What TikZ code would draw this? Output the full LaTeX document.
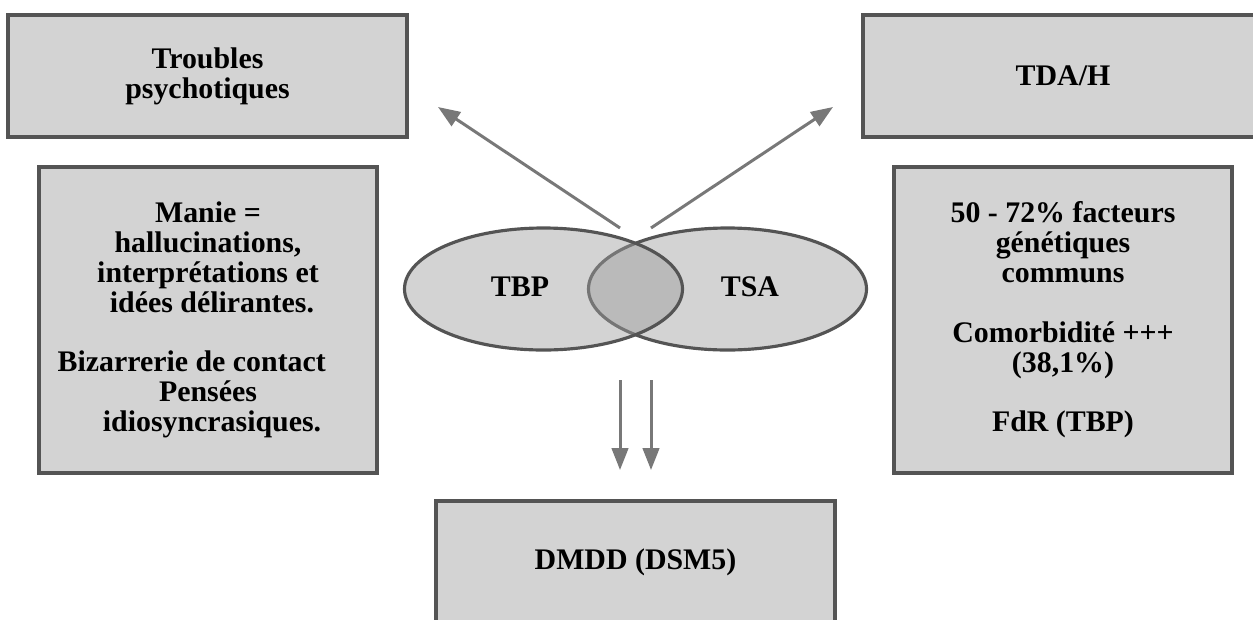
\documentclass[tikz,border=0pt]{standalone}
\usepackage{fontspec}
\setmainfont{Liberation Serif}
\usetikzlibrary{arrows.meta,shapes.geometric}
\definecolor{boxfill}{gray}{0.827}
\definecolor{boxline}{gray}{0.33}
\definecolor{arrowgray}{gray}{0.47}
\definecolor{setfill}{gray}{0.62}

\begin{document}
\begin{tikzpicture}[
  txt/.style={font=\bfseries\fontsize{17}{17}\selectfont},
  box/.style={txt, draw=boxline, fill=boxfill, line width=1.8pt, inner sep=0pt, align=center},
  set/.style={ellipse, draw=boxline, line width=1.8pt, inner sep=0pt, minimum width=5.56cm, minimum height=2.44cm},
  arr/.style={draw=arrowgray, line width=1.7pt, -{Triangle[length=0.44cm,width=0.33cm]}}
]
  \useasboundingbox (0,0) rectangle (25.06,-12.38);
  \clip (0,0) rectangle (25.06,-12.38);
  \node[box, minimum width=7.98cm, minimum height=2.44cm] (psy) at (4.15,-1.52) {Troubles\\psychotiques};
  \node[box, minimum width=6.76cm, minimum height=6.12cm] (manie) at (4.16,-6.40)
    {Manie =\\hallucinations,\\interprétations et\\\kern0.16cm idées délirantes.\\[17pt]
     Bizarrerie de contact\kern0.65cm\\Pensées\\\kern0.16cm idiosyncrasiques.};
  \node[box, minimum width=8.0cm, minimum height=2.44cm] (tdah) at (21.26,-1.52) {TDA/H};
  \node[box, minimum width=6.76cm, minimum height=6.12cm] (gen) at (21.26,-6.40)
    {50 - 72\% facteurs\\génétiques\\communs\\[17pt]Comorbidité +++\\(38,1\%)\\[17pt]FdR (TBP)};
  \node[box, minimum width=7.98cm, minimum height=2.44cm] (dmdd) at (12.71,-11.24) {DMDD (DSM5)};
  % the two sets, TBP on top of TSA
  \node[set, fill=boxfill] (tsa) at (14.55,-5.78) {};
  \node[set, fill=setfill, fill opacity=0.455] (tbp) at (10.87,-5.78) {};
  \node[txt] (tbplbl) at (10.40,-5.74) {TBP};
  \node[txt] (tsalbl) at (15.00,-5.74) {TSA};
  \coordinate (upl) at (12.40,-4.56);
  \coordinate (upr) at (13.02,-4.56);
  \coordinate (tipl) at (8.76,-2.14);
  \coordinate (tipr) at (16.66,-2.14);
  \coordinate (dnl) at (12.40,-7.60);
  \coordinate (dnr) at (13.02,-7.60);
  \coordinate (endl) at (12.40,-9.40);
  \coordinate (endr) at (13.02,-9.40);
  \draw[arr] (upl) -- (tipl);
  \draw[arr] (upr) -- (tipr);
  \draw[arr] (dnl) -- (endl);
  \draw[arr] (dnr) -- (endr);
\end{tikzpicture}
\end{document}
